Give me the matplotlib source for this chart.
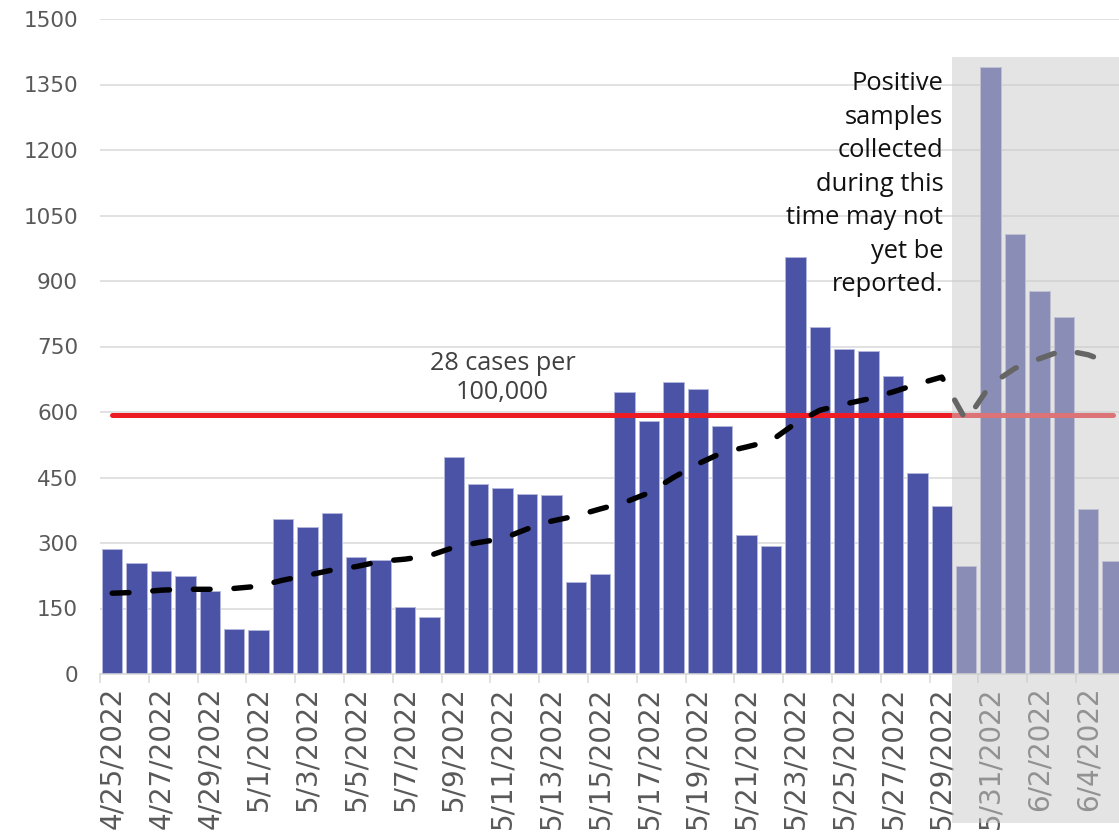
import numpy as np
import pandas as pd
import matplotlib
matplotlib.use("Agg")
import matplotlib.pyplot as plt
import matplotlib.transforms as mtransforms
from matplotlib.patches import Rectangle

# daily positive cases, 4/25/2022 .. 6/5/2022
dates = pd.date_range("2022-04-25", periods=42, freq="D")
date_labels = [f"{d.month}/{d.day}/{d.year}" for d in dates]

cases = [287, 255, 236, 225, 190, 102, 101, 354, 337, 368,
         269, 261, 154, 131, 496, 434, 427, 412, 411, 211,
         228, 645, 579, 669, 653, 569, 319, 294, 956, 794,
         745, 739, 683, 461, 385, 248, 1391, 1008, 876, 818,
         378, 259]

# dashed trend line
trend = [185, 187, 192, 194, 194, 196, 201, 215, 226, 238,
         246, 258, 263, 271, 290, 301, 310, 332, 350, 362,
         378, 393, 415, 450, 481, 507, 520, 534, 574, 604,
         618, 630, 646, 664, 680, 580, 663, 700, 722, 742,
         731, 710]

threshold = 593
threshold_label = "28 cases per\n100,000"
note = "Positive\nsamples\ncollected\nduring this\ntime may not\nyet be\nreported."
yticks = [0, 150, 300, 450, 600, 750, 900, 1050, 1200, 1350, 1500]

bar_color = "#4A53A5"
grid_color = "#D9D9D9"
label_grey = "#595959"

fig = plt.figure(figsize=(11.19, 8.32), dpi=100)
ax = fig.add_axes([100 / 1119, 158 / 832, 1024.8 / 1119, 655 / 832])

x = np.arange(len(cases))
ax.bar(x, cases, width=0.84, color=bar_color, edgecolor="#B3B7DC",
       linewidth=0.7, zorder=2)
ax.plot(x, [threshold] * len(x), color="#ED1C24", lw=3.6,
        solid_capstyle="round", zorder=3)
ax.plot(x, trend, color="black", lw=3.9, linestyle=(0, (3.1, 4.4)),
        dash_capstyle="round", zorder=4)

ax.set_xlim(-0.5, 41.5)
ax.set_ylim(0, 1500)
ax.set_yticks(yticks)
ax.set_yticklabels([str(v) for v in yticks])
ax.yaxis.grid(True, color=grid_color, lw=1.1, zorder=0)
ax.set_axisbelow(True)

ax.set_xticks(x[::2])
ax.set_xticklabels(date_labels[::2], rotation=90)
ax.set_xticks(np.arange(-0.5, 41.5, 2), minor=True)
ax.tick_params(axis="x", which="major", length=0, pad=9,
               labelsize=20, labelcolor=label_grey)
ax.tick_params(axis="x", which="minor", length=6.5, width=1.1,
               color=grid_color)
ax.tick_params(axis="y", length=0, pad=15.8, labelsize=15.5,
               labelcolor=label_grey)

for side in ["top", "right", "left"]:
    ax.spines[side].set_visible(False)
ax.spines["bottom"].set_color(grid_color)
ax.spines["bottom"].set_linewidth(1.1)

ax.text(16.0, 739, threshold_label, ha="center", va="top",
        multialignment="center", fontsize=18.2, linespacing=1.22,
        color="#404040", family=["Open Sans", "DejaVu Sans"], zorder=5)
ax.text(34.06, 1380, note, ha="right", va="top", multialignment="right",
        fontsize=18.4, linespacing=1.445, color="#111111",
        family=["Open Sans", "DejaVu Sans"], zorder=5)

# grey veil over the days that may be incomplete
trans = mtransforms.blended_transform_factory(ax.transData, fig.transFigure)
veil = Rectangle((34.42, 9 / 832), 10, 766 / 832, transform=trans,
                 facecolor="#CACACA", edgecolor="none", alpha=0.5, zorder=10)
fig.add_artist(veil)

fig.savefig("out.png", dpi=100)
